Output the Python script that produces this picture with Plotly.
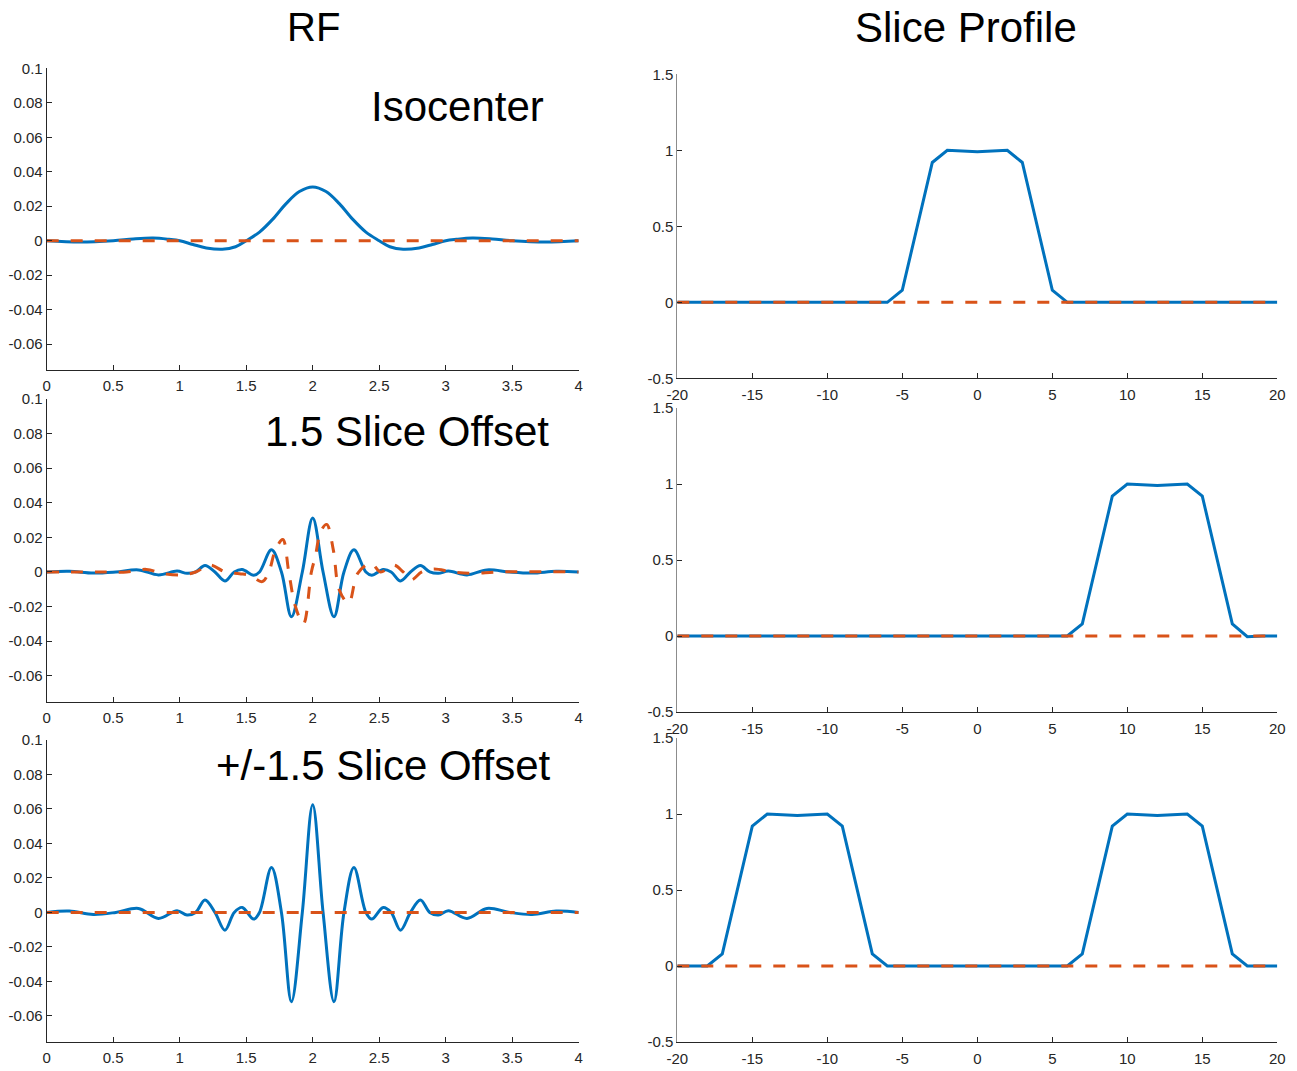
import plotly.graph_objects as go

W, H = 1297, 1071

# ---------------- data ----------------
# RF, isocenter (real part = blue, imaginary = orange dashed)
t_iso = [0.00, 0.25, 0.50, 0.65, 0.80, 0.92, 1.00, 1.10, 1.20, 1.32, 1.42, 1.50, 1.60, 1.70, 1.80,
         1.90, 2.00, 2.10, 2.20, 2.30, 2.40, 2.50, 2.58, 2.68, 2.80, 2.90, 3.00, 3.08, 3.20, 3.35,
         3.50, 3.75, 4.00]
v_iso = [0.0, -0.0007, 0.0, 0.0010, 0.0015, 0.0008, 0.0, -0.0022, -0.0042, -0.0050, -0.0035, 0.0,
         0.0050, 0.0125, 0.0215, 0.0285, 0.0312, 0.0285, 0.0215, 0.0125, 0.0050, 0.0, -0.0035,
         -0.0050, -0.0042, -0.0022, 0.0, 0.0008, 0.0015, 0.0010, 0.0, -0.0007, 0.0]
t_iso_imag = [0.0, 4.0]
v_iso_imag = [0.0, 0.0]

# RF, 1.5 slice offset
t_shift = [0.00, 0.17, 0.35, 0.52, 0.69, 0.84, 0.98, 1.055, 1.12, 1.19, 1.265, 1.34, 1.41, 1.47,
           1.556, 1.60, 1.69, 1.765, 1.84, 1.922, 2.00, 2.078, 2.16, 2.235, 2.31, 2.40, 2.444,
           2.53, 2.59, 2.66, 2.735, 2.81, 2.88, 2.945, 3.02, 3.16, 3.31, 3.48, 3.65, 3.83, 4.00]
v_shift = [0.0, 0.0004, -0.0006, 0.0, 0.0012, -0.0017, 0.0005, -0.0008, 0.0, 0.0037, 0.0, -0.0052,
           0.0, 0.0014, -0.0019, 0.0, 0.0128, 0.0, -0.0259, 0.0, 0.0312, 0.0, -0.0259, 0.0, 0.0128,
           0.0, -0.0019, 0.0014, 0.0, -0.0052, 0.0, 0.0037, 0.0, -0.0008, 0.0005, -0.0017, 0.0012,
           0.0, -0.0006, 0.0004, 0.0]
t_shift_imag = [0.00, 0.45, 0.60, 0.75, 0.88, 1.02, 1.12, 1.23, 1.34, 1.45, 1.53, 1.62, 1.67, 1.72,
                1.775, 1.82, 1.87, 1.93, 1.99, 2.02, 2.06, 2.105, 2.155, 2.20, 2.27, 2.34, 2.44,
                2.51, 2.61, 2.68, 2.74, 2.82, 2.91, 3.05, 3.20, 3.40, 4.00]
v_shift_imag = [0.0, 0.0, 0.0, 0.0015, -0.0010, -0.0017, 0.0, 0.0040, 0.0, -0.0010, -0.0020,
                -0.0056, 0.0, 0.0128, 0.0188, 0.0, -0.0200, -0.0300, 0.0, 0.0090, 0.0234, 0.0275,
                0.0128, -0.0104, -0.0180, -0.0006, 0.0050, 0.0, 0.0040, 0.0, -0.0046, 0.0, 0.0017,
                0.0, -0.0008, 0.0, 0.0]

# RF, +/-1.5 slice offset
t_pm = [0.00, 0.17, 0.35, 0.52, 0.69, 0.84, 0.98, 1.055, 1.12, 1.19, 1.265, 1.34, 1.41, 1.47,
        1.556, 1.60, 1.69, 1.765, 1.84, 1.922, 2.00, 2.078, 2.16, 2.235, 2.31, 2.40, 2.444,
        2.53, 2.59, 2.66, 2.735, 2.81, 2.88, 2.945, 3.02, 3.16, 3.31, 3.48, 3.65, 3.83, 4.00]
v_pm = [0.0, 0.0008, -0.0012, 0.0, 0.0023, -0.0035, 0.0010, -0.0015, 0.0, 0.0072, 0.0, -0.0103,
        0.0, 0.0029, -0.0039, 0.0, 0.0260, 0.0, -0.0518, 0.0, 0.0625, 0.0, -0.0518, 0.0, 0.0260,
        0.0, -0.0039, 0.0029, 0.0, -0.0103, 0.0, 0.0072, 0.0, -0.0015, 0.0010, -0.0035, 0.0023,
        0.0, -0.0012, 0.0008, 0.0]
t_pm_imag = [0.0, 4.0]
v_pm_imag = [0.0, 0.0]

# Slice profiles
z = [-20, -19, -18, -17, -16, -15, -14, -13, -12, -11, -10, -9, -8, -7, -6, -5, -4, -3, -2, -1, 0,
     1, 2, 3, 4, 5, 6, 7, 8, 9, 10, 11, 12, 13, 14, 15, 16, 17, 18, 19, 20]
prof_iso = [0, 0, 0, 0, 0, 0, 0, 0, 0, 0, 0, 0, 0, 0, 0, 0.08, 0.5, 0.92, 1.0, 0.995, 0.99,
            0.995, 1.0, 0.92, 0.5, 0.08, 0, 0, 0, 0, 0, 0, 0, 0, 0, 0, 0, 0, 0, 0, 0]
prof_shift = [0, 0, 0, 0, 0, 0, 0, 0, 0, 0, 0, 0, 0, 0, 0, 0, 0, 0, 0, 0, 0,
              0, 0, 0, 0, 0, 0, 0.08, 0.5, 0.92, 1.0, 0.995, 0.99, 0.995, 1.0, 0.92, 0.5, 0.08,
              -0.005, 0, 0]
prof_pm = [0, 0, 0, 0.08, 0.5, 0.92, 1.0, 0.995, 0.99, 0.995, 1.0, 0.92, 0.5, 0.08, 0, 0, 0, 0,
           0, 0, 0, 0, 0, 0, 0, 0, 0, 0.08, 0.5, 0.92, 1.0, 0.995, 0.99, 0.995, 1.0, 0.92, 0.5,
           0.08, 0, 0, 0]
prof_imag = [0, 0, 0, 0, 0, 0, 0, 0, 0, 0, 0, 0, 0, 0, 0, 0, 0, 0, 0, 0, 0,
             0, 0, 0, 0, 0, 0, 0, 0, 0, 0, 0, 0, 0, 0, 0, 0, 0, 0, 0, 0]

rf_xticks = [0, 0.5, 1, 1.5, 2, 2.5, 3, 3.5, 4]
rf_xtext = ["0", "0.5", "1", "1.5", "2", "2.5", "3", "3.5", "4"]
rf_yticks = [-0.06, -0.04, -0.02, 0, 0.02, 0.04, 0.06, 0.08, 0.1]
rf_ytext = ["-0.06", "-0.04", "-0.02", "0", "0.02", "0.04", "0.06", "0.08", "0.1"]
sp_xticks = [-20, -15, -10, -5, 0, 5, 10, 15, 20]
sp_xtext = ["-20", "-15", "-10", "-5", "0", "5", "10", "15", "20"]
sp_yticks = [-0.5, 0, 0.5, 1, 1.5]
sp_ytext = ["-0.5", "0", "0.5", "1", "1.5"]

col_titles = ["RF", "Slice Profile"]
row_labels = ["Isocenter", "1.5 Slice Offset", "+/-1.5 Slice Offset"]

# ---------------- styling ----------------
BLUE = "#0072BD"
ORANGE = "#D95319"
AX = "#262626"
FONT = "Liberation Sans, Arial, Helvetica, sans-serif"


def px_x(p):
    return p / W


def px_y(p):
    return 1 - p / H


# plot-area pixel boxes (left, right, top, bottom)
rf_boxes = [(46.7, 578.7, 68.3, 370.0), (46.7, 578.7, 399.0, 701.7), (46.7, 578.7, 740.0, 1041.7)]
sp_boxes = [(677.3, 1277.3, 74.3, 378.3), (677.3, 1277.3, 408.0, 712.0), (677.3, 1277.3, 738.0, 1042.0)]

fig = go.Figure()

rf_data = [
    (t_iso, v_iso, t_iso_imag, v_iso_imag),
    (t_shift, v_shift, t_shift_imag, v_shift_imag),
    (t_pm, v_pm, t_pm_imag, v_pm_imag),
]
sp_data = [prof_iso, prof_shift, prof_pm]

layout = dict(
    width=W, height=H, autosize=False,
    margin=dict(l=0, r=0, t=0, b=0, pad=0),
    paper_bgcolor="white", plot_bgcolor="white",
    showlegend=False,
    font=dict(family=FONT, color=AX),
)

axis_common = dict(
    showgrid=False, zeroline=False, showline=True, linewidth=1,
    ticks="inside", ticklen=5, tickwidth=1, automargin=False,
    tickfont=dict(family=FONT, size=15, color=AX),
)

n = 0
for r in range(3):
    # RF panel
    n += 1
    xa, ya = f"x{n}", f"y{n}"
    tr, vr, ti, vi = rf_data[r]
    fig.add_trace(go.Scatter(x=tr, y=vr, mode="lines", xaxis=xa, yaxis=ya,
                             line=dict(color=BLUE, width=3, shape="spline", smoothing=1.0)))
    fig.add_trace(go.Scatter(x=ti, y=vi, mode="lines", xaxis=xa, yaxis=ya,
                             line=dict(color=ORANGE, width=3, dash="12px,12px",
                                       shape="spline", smoothing=1.0)))
    l, rr, t, b = rf_boxes[r]
    layout[f"xaxis{n}"] = dict(axis_common, domain=[px_x(l), px_x(rr)], range=[0, 4],
                               anchor=ya, tickvals=rf_xticks, ticktext=rf_xtext,
                               linecolor=AX, tickcolor=AX, ticklabelstandoff=2)
    layout[f"yaxis{n}"] = dict(axis_common, domain=[px_y(b), px_y(t)], range=[-0.075, 0.1],
                               anchor=xa, tickvals=rf_yticks, ticktext=rf_ytext,
                               linecolor=AX, tickcolor=AX)
    # Slice profile panel
    n += 1
    xa, ya = f"x{n}", f"y{n}"
    fig.add_trace(go.Scatter(x=z, y=sp_data[r], mode="lines", xaxis=xa, yaxis=ya,
                             line=dict(color=BLUE, width=3)))
    fig.add_trace(go.Scatter(x=z, y=prof_imag, mode="lines", xaxis=xa, yaxis=ya,
                             line=dict(color=ORANGE, width=3, dash="12px,12px")))
    l, rr, t, b = sp_boxes[r]
    layout[f"xaxis{n}"] = dict(axis_common, domain=[px_x(l), px_x(rr)], range=[-20, 20],
                               anchor=ya, tickvals=sp_xticks, ticktext=sp_xtext,
                               linecolor=AX, tickcolor=AX, ticklabelstandoff=3)
    layout[f"yaxis{n}"] = dict(axis_common, domain=[px_y(b), px_y(t)], range=[-0.5, 1.5],
                               anchor=xa, tickvals=sp_yticks, ticktext=sp_ytext,
                               linecolor="#8c8c8c", tickcolor=AX)

annotations = [
    dict(text=col_titles[0], x=px_x(313), y=px_y(27), xref="paper", yref="paper",
         xanchor="center", yanchor="middle", showarrow=False,
         font=dict(family=FONT, size=40, color="black")),
    dict(text=col_titles[1], x=px_x(966), y=px_y(27), xref="paper", yref="paper",
         xanchor="center", yanchor="middle", showarrow=False,
         font=dict(family=FONT, size=42, color="black")),
]
label_pos = [(546, 107), (551, 431), (553, 765)]
for lab, (lx, ly) in zip(row_labels, label_pos):
    annotations.append(dict(text=lab, x=px_x(lx), y=px_y(ly), xref="paper", yref="paper",
                            xanchor="right", yanchor="middle", showarrow=False,
                            font=dict(family=FONT, size=42, color="black")))
layout["annotations"] = annotations

fig.update_layout(**layout)
fig.write_html("out.html")
